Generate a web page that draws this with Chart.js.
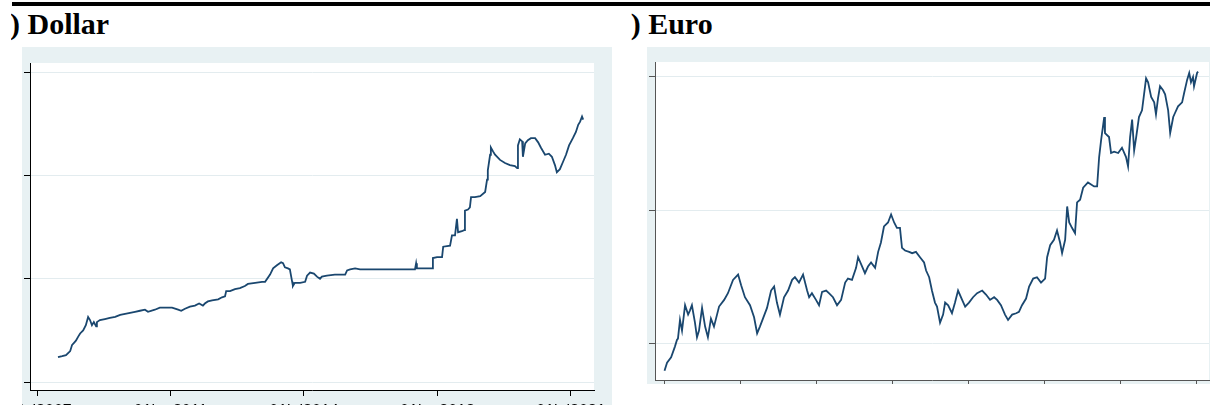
<!DOCTYPE html>
<html>
<head>
<meta charset="utf-8">
<script src="https://cdn.jsdelivr.net/npm/chart.js@4/dist/chart.umd.min.js"></script>
<style>
  html, body { margin: 0; padding: 0; background: #fff; width: 1210px; height: 405px; overflow: hidden; position: relative; }
  .bar { position: absolute; left: 12px; top: 2px; width: 1198px; height: 4px; background: #000; }
  .title { position: absolute; top: 9px; font: bold 30px "Liberation Serif", "Times New Roman", serif; line-height: 30px; white-space: nowrap; color: #000; }
  .clip { position: absolute; top: 0; height: 45px; overflow: hidden; }
  canvas { position: absolute; }
</style>
</head>
<body>
<div class="bar"></div>
<div class="clip" style="left:11px;width:200px"><div class="title" style="left:-26px">(a) Dollar</div></div>
<div class="clip" style="left:631px;width:200px"><div class="title" style="left:-27px">(b) Euro</div></div>
<canvas id="dollarCanvas" width="590" height="380" style="left:22px;top:47px"></canvas>
<canvas id="euroCanvas" width="563" height="337" style="left:647px;top:47px"></canvas>
<script>
// panel (a): Dollar
const dollarYears = [2008.05, 2008.16, 2008.26, 2008.37, 2008.42, 2008.47, 2008.52, 2008.58, 2008.63, 2008.71,
  2008.78, 2008.84, 2008.89, 2008.94, 2008.99, 2009.05, 2009.07, 2009.15, 2009.28, 2009.41,
  2009.55, 2009.68, 2009.81, 2009.94, 2010.07, 2010.20, 2010.33, 2010.41, 2010.59, 2010.72,
  2010.86, 2011.04, 2011.20, 2011.28, 2011.38, 2011.51, 2011.64, 2011.75, 2011.85, 2011.90,
  2011.98, 2012.09, 2012.25, 2012.35, 2012.43, 2012.46, 2012.56, 2012.69, 2012.82, 2012.95,
  2013.03, 2013.22, 2013.40, 2013.48, 2013.61, 2013.69, 2013.79, 2013.90, 2013.95, 2014.00,
  2014.08, 2014.13, 2014.19, 2014.21, 2014.26, 2014.40, 2014.53, 2014.58, 2014.66, 2014.76,
  2014.84, 2014.92, 2014.97, 2015.10, 2015.31, 2015.58, 2015.63, 2015.71, 2015.84, 2015.97,
  2016.23, 2016.49, 2016.76, 2017.02, 2017.28, 2017.41, 2017.44, 2017.46, 2017.67, 2017.86,
  2017.88, 2017.99, 2018.12, 2018.15, 2018.33, 2018.38, 2018.46, 2018.51, 2018.54, 2018.64,
  2018.70, 2018.72, 2018.80, 2018.85, 2018.88, 2018.98, 2019.12, 2019.25, 2019.30, 2019.32,
  2019.38, 2019.40, 2019.46, 2019.51, 2019.64, 2019.77, 2019.90, 2020.03, 2020.09, 2020.11,
  2020.16, 2020.22, 2020.24, 2020.30, 2020.37, 2020.45, 2020.56, 2020.64, 2020.71, 2020.82,
  2020.92, 2021.00, 2021.08, 2021.13, 2021.21, 2021.29, 2021.37, 2021.45, 2021.55, 2021.63,
  2021.69, 2021.74, 2021.79, 2021.82];
const dollarValues = [0.24, 0.25, 0.26, 0.30, 0.36, 0.38, 0.40, 0.44, 0.47, 0.50,
  0.55, 0.63, 0.60, 0.55, 0.58, 0.54, 0.58, 0.60, 0.61, 0.62,
  0.63, 0.65, 0.66, 0.67, 0.68, 0.69, 0.70, 0.68, 0.70, 0.72,
  0.72, 0.72, 0.70, 0.69, 0.71, 0.73, 0.74, 0.76, 0.74, 0.76,
  0.78, 0.79, 0.80, 0.82, 0.83, 0.88, 0.88, 0.90, 0.91, 0.93,
  0.95, 0.96, 0.97, 0.97, 1.04, 1.10, 1.13, 1.16, 1.15, 1.11,
  1.10, 1.09, 0.97, 0.93, 0.96, 0.96, 0.97, 1.03, 1.06, 1.05,
  1.02, 1.00, 1.02, 1.03, 1.04, 1.04, 1.08, 1.09, 1.10, 1.09,
  1.09, 1.09, 1.09, 1.09, 1.09, 1.09, 1.15, 1.10, 1.10, 1.10,
  1.20, 1.21, 1.21, 1.31, 1.32, 1.42, 1.42, 1.58, 1.45, 1.46,
  1.47, 1.66, 1.67, 1.69, 1.79, 1.79, 1.80, 1.84, 1.96, 2.05,
  2.20, 2.27, 2.23, 2.20, 2.15, 2.12, 2.10, 2.09, 2.07, 2.29,
  2.35, 2.33, 2.18, 2.31, 2.34, 2.36, 2.36, 2.32, 2.27, 2.20,
  2.21, 2.18, 2.10, 2.03, 2.06, 2.13, 2.20, 2.29, 2.36, 2.42,
  2.49, 2.52, 2.57, 2.54];
const dollarXTicks = [2007.5, 2011, 2014.5, 2018, 2021.5];
const dollarXLabels = ["01jul2007", "01jan2011", "01jul2014", "01jan2018", "01jul2021"];
const dollarYTicks = [0, 1, 2, 3];

// panel (b): Euro
const euroYears = [1999.02, 1999.12, 1999.28, 1999.43, 1999.51, 1999.55, 1999.63, 1999.71, 1999.83, 1999.95,
  2000.02, 2000.10, 2000.22, 2000.30, 2000.38, 2000.50, 2000.62, 2000.73, 2000.85, 2000.97,
  2001.17, 2001.37, 2001.52, 2001.72, 2001.92, 2002.04, 2002.19, 2002.39, 2002.55, 2002.67,
  2002.78, 2002.90, 2003.06, 2003.22, 2003.34, 2003.45, 2003.57, 2003.73, 2003.89, 2004.05,
  2004.16, 2004.32, 2004.48, 2004.64, 2004.72, 2004.83, 2004.99, 2005.11, 2005.23, 2005.39,
  2005.50, 2005.66, 2005.82, 2005.98, 2006.14, 2006.25, 2006.41, 2006.57, 2006.65, 2006.81,
  2006.92, 2007.04, 2007.16, 2007.32, 2007.44, 2007.55, 2007.67, 2007.83, 2007.95, 2008.07,
  2008.18, 2008.30, 2008.38, 2008.50, 2008.66, 2008.78, 2008.93, 2009.09, 2009.25, 2009.33,
  2009.45, 2009.56, 2009.68, 2009.76, 2009.88, 2010.00, 2010.08, 2010.20, 2010.35, 2010.47,
  2010.59, 2010.75, 2010.87, 2011.02, 2011.18, 2011.34, 2011.54, 2011.69, 2011.85, 2012.01,
  2012.13, 2012.28, 2012.44, 2012.56, 2012.72, 2012.88, 2012.99, 2013.11, 2013.27, 2013.39,
  2013.55, 2013.70, 2013.86, 2014.02, 2014.10, 2014.22, 2014.37, 2014.49, 2014.61, 2014.69,
  2014.81, 2014.89, 2014.97, 2015.08, 2015.20, 2015.28, 2015.40, 2015.52, 2015.71, 2015.95,
  2016.07, 2016.15, 2016.23, 2016.35, 2016.38, 2016.54, 2016.62, 2016.74, 2016.90, 2017.05,
  2017.21, 2017.29, 2017.37, 2017.45, 2017.53, 2017.61, 2017.72, 2017.84, 2017.96, 2018.00,
  2018.08, 2018.20, 2018.32, 2018.39, 2018.47, 2018.55, 2018.67, 2018.75, 2018.87, 2018.95,
  2019.07, 2019.14, 2019.26, 2019.42, 2019.50, 2019.62, 2019.70, 2019.77, 2019.85, 2019.89,
  2020.01, 2020.05];
const euroValues = [0.80, 0.86, 0.90, 0.98, 1.03, 1.04, 1.18, 1.10, 1.29, 1.22,
  1.25, 1.29, 1.16, 1.05, 1.10, 1.27, 1.13, 1.05, 1.19, 1.13,
  1.28, 1.33, 1.38, 1.48, 1.52, 1.44, 1.35, 1.29, 1.20, 1.08,
  1.13, 1.19, 1.27, 1.40, 1.43, 1.31, 1.22, 1.35, 1.40, 1.48,
  1.50, 1.46, 1.52, 1.40, 1.35, 1.38, 1.33, 1.29, 1.39, 1.40,
  1.38, 1.35, 1.29, 1.33, 1.46, 1.49, 1.48, 1.57, 1.65, 1.58,
  1.53, 1.58, 1.61, 1.57, 1.69, 1.76, 1.88, 1.91, 1.97, 1.91,
  1.87, 1.87, 1.72, 1.70, 1.69, 1.68, 1.69, 1.65, 1.61, 1.55,
  1.50, 1.40, 1.31, 1.28, 1.16, 1.22, 1.31, 1.29, 1.23, 1.31,
  1.40, 1.33, 1.28, 1.31, 1.35, 1.38, 1.40, 1.37, 1.33, 1.35,
  1.33, 1.29, 1.22, 1.18, 1.22, 1.23, 1.24, 1.29, 1.34, 1.43,
  1.49, 1.50, 1.46, 1.49, 1.65, 1.74, 1.78, 1.85, 1.76, 1.68,
  1.78, 2.03, 1.91, 1.87, 1.83, 2.06, 2.08, 2.17, 2.21, 2.18,
  2.18, 2.40, 2.53, 2.70, 2.58, 2.55, 2.43, 2.44, 2.43, 2.47,
  2.40, 2.33, 2.55, 2.68, 2.45, 2.55, 2.70, 2.75, 2.93, 2.99,
  2.96, 2.85, 2.81, 2.72, 2.84, 2.93, 2.90, 2.87, 2.75, 2.58,
  2.70, 2.73, 2.78, 2.81, 2.88, 2.98, 3.03, 2.96, 3.00, 2.93,
  3.03, 3.04];
const euroXTicks = [1999, 2002, 2005, 2008, 2011, 2014, 2017, 2020];
const euroYTicks = [1, 2, 3];

const panelColor = "#e8f1f3";
const gridColor = "#e3ecef";
const lineColor = "#1a476f";

// stata-like panel: bluish frame, white plot region
const panelBg = {
  id: "panelBg",
  beforeDraw(chart) {
    const { ctx, chartArea: a } = chart;
    ctx.save();
    ctx.fillStyle = panelColor;
    ctx.fillRect(0, 0, chart.width, chart.height);
    ctx.fillStyle = "#fff";
    ctx.fillRect(a.left, a.top, a.right - a.left, a.bottom - a.top);
    ctx.restore();
  },
};

const makePanel = (canvasId, years, values, opt) => {
  const ctx = document.getElementById(canvasId).getContext("2d");
  return new Chart(ctx, {
    type: "line",
    data: {
      datasets: [
        {
          data: years.map((x, i) => ({ x: x, y: values[i] })),
          borderColor: lineColor,
          borderWidth: 1.8,
          pointRadius: 0,
          tension: 0,
          fill: false,
        },
      ],
    },
    options: {
      responsive: false,
      animation: false,
      events: [],
      layout: { padding: opt.padding },
      plugins: { legend: { display: false }, tooltip: { enabled: false } },
      scales: {
        x: {
          type: "linear",
          min: opt.xMin,
          max: opt.xMax,
          border: { color: opt.axisColor, width: 1 },
          grid: { drawOnChartArea: false, drawTicks: true, tickLength: opt.xTickLen, tickColor: opt.axisColor },
          ticks: {
            display: !!opt.xLabels,
            maxRotation: 0,
            autoSkip: false,
            padding: 6,
            color: "#000",
            font: { family: "Liberation Sans, Arial, sans-serif", size: 16 },
            callback: (v, i) => (opt.xLabels ? opt.xLabels[i] : ""),
          },
          afterBuildTicks: (s) => {
            s.ticks = opt.xTicks.map((v) => ({ value: v }));
          },
          afterFit: (s) => {
            s.height = opt.xAxisHeight;
            s.paddingLeft = 0;
            s.paddingRight = 0;
          },
        },
        y: {
          type: "linear",
          min: opt.yMin,
          max: opt.yMax,
          border: { color: opt.axisColor, width: 1 },
          grid: { color: gridColor, lineWidth: 1, drawTicks: true, tickLength: 6, tickColor: opt.axisColor },
          ticks: { display: false },
          afterBuildTicks: (s) => {
            s.ticks = opt.yTicks.map((v) => ({ value: v }));
          },
          afterFit: (s) => {
            s.width = 8;
            s.paddingTop = 0;
            s.paddingBottom = 0;
          },
        },
      },
    },
    plugins: [panelBg],
  });
};

makePanel("dollarCanvas", dollarYears, dollarValues, {
  padding: { left: 0, top: 16, right: 18, bottom: 7 },
  xMin: 2007.316, xMax: 2022.104,
  yMin: -0.077, yMax: 3.088,
  xTicks: dollarXTicks, xLabels: dollarXLabels, yTicks: dollarYTicks,
  xTickLen: 6, xAxisHeight: 30, axisColor: "#000",
});

makePanel("euroCanvas", euroYears, euroValues, {
  padding: { left: 0, top: 15, right: 1, bottom: 0 },
  xMin: 1998.645, xMax: 2020.48,
  yMin: 0.730, yMax: 3.112,
  xTicks: euroXTicks, xLabels: null, yTicks: euroYTicks,
  xTickLen: 4, xAxisHeight: 4, axisColor: "#555",
});
</script>
</body>
</html>
